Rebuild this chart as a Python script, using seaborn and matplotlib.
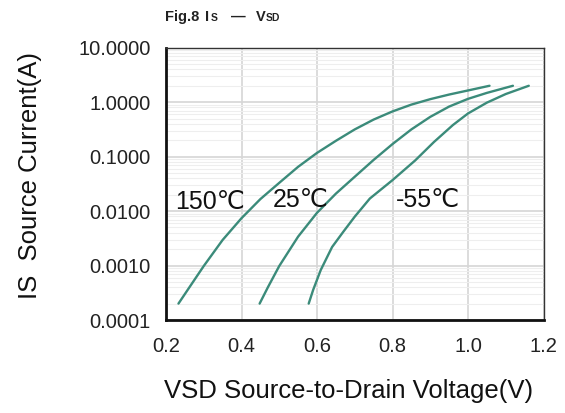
import numpy as np
import pandas as pd
import matplotlib
matplotlib.use("Agg")
import matplotlib.pyplot as plt
import seaborn as sns
from matplotlib.ticker import FixedLocator, FixedFormatter, NullFormatter, LogLocator

# ---- data ----
v_150 = [0.233, 0.26, 0.30, 0.35, 0.40, 0.45, 0.50, 0.55, 0.60, 0.65, 0.70, 0.75,
         0.80, 0.85, 0.90, 0.95, 1.00, 1.057]
i_150 = [2.0e-4, 3.8e-4, 9.8e-4, 2.95e-3, 7.4e-3, 0.0166, 0.033, 0.065, 0.117, 0.195,
         0.316, 0.479, 0.676, 0.902, 1.135, 1.38, 1.64, 2.0]

v_25 = [0.448, 0.47, 0.50, 0.55, 0.60, 0.65, 0.70, 0.75, 0.80, 0.85, 0.90, 0.95,
        1.00, 1.05, 1.119]
i_25 = [2.0e-4, 4.0e-4, 9.8e-4, 3.4e-3, 9.3e-3, 0.0209, 0.0427, 0.087, 0.17, 0.316,
        0.537, 0.83, 1.15, 1.48, 2.0]

v_m55 = [0.578, 0.59, 0.61, 0.64, 0.67, 0.70, 0.74, 0.80, 0.86, 0.91, 0.96, 1.00,
         1.05, 1.10, 1.161]
i_m55 = [2.0e-4, 3.6e-4, 8.3e-4, 2.19e-3, 4.2e-3, 7.9e-3, 0.017, 0.037, 0.085, 0.186,
         0.38, 0.62, 0.98, 1.41, 2.0]

temps = ["150℃", "25℃", "-55℃"]
x_ticks = [0.2, 0.4, 0.6, 0.8, 1.0, 1.2]
y_ticks = [0.0001, 0.001, 0.01, 0.1, 1.0, 10.0]
y_tick_labels = ["0.0001", "0.0010", "0.0100", "0.1000", "1.0000", "10.0000"]
x_tick_labels = ["0.2", "0.4", "0.6", "0.8", "1.0", "1.2"]

df = pd.concat([
    pd.DataFrame({"V": v_150, "I": i_150, "T": temps[0]}),
    pd.DataFrame({"V": v_25, "I": i_25, "T": temps[1]}),
    pd.DataFrame({"V": v_m55, "I": i_m55, "T": temps[2]}),
], ignore_index=True)

sns.set_theme(style="white")
plt.rcParams["font.family"] = ["Liberation Sans", "DejaVu Sans"]

line_color = "#3b8b7a"

fig = plt.figure(figsize=(5.65, 4.13), dpi=100)
W, H = 565, 413
L, R, T, B = 166, 543.5, 47.7, 320
ax = fig.add_axes([L / W, 1 - B / H, (R - L) / W, (B - T) / H])

sns.lineplot(data=df, x="V", y="I", hue="T", palette=[line_color] * 3,
             estimator=None, legend=False, ax=ax, linewidth=1.7)

ax.set_yscale("log")
ax.set_xlim(0.2, 1.2)
ax.set_ylim(1e-4, 10)

ax.yaxis.set_major_locator(FixedLocator(y_ticks))
ax.yaxis.set_major_formatter(FixedFormatter(y_tick_labels))
ax.yaxis.set_minor_locator(LogLocator(base=10, subs=np.arange(2, 10), numticks=20))
ax.yaxis.set_minor_formatter(NullFormatter())
ax.xaxis.set_major_locator(FixedLocator(x_ticks))
ax.xaxis.set_major_formatter(FixedFormatter(x_tick_labels))

ax.grid(True, which="major", axis="both", color="#d6d6d6", linewidth=1.2)
ax.grid(True, which="minor", axis="y", color="#eeeeee", linewidth=0.8)
ax.set_axisbelow(True)

for s in ["left", "bottom"]:
    ax.spines[s].set_color("#111111")
    ax.spines[s].set_linewidth(2.0)
for s in ["top", "right"]:
    ax.spines[s].set_color("#333333")
    ax.spines[s].set_linewidth(1.0)

ax.tick_params(axis="both", which="both", length=0, labelsize=14.5, labelcolor="#222222")
ax.tick_params(axis="y", pad=11)
ax.tick_params(axis="x", pad=12)

ax.set_xlabel("VSD Source-to-Drain Voltage(V)", fontsize=18.5, color="#111111", va="center")
ax.xaxis.set_label_coords(0.483, -0.259)
ax.set_ylabel("IS  Source Current(A)", fontsize=18.5, color="#111111", va="center")
ax.yaxis.set_label_coords(-0.36, 0.532)

# curve labels
ax.text(0.224, 0.0146, temps[0], fontsize=18, va="center", ha="left", color="#111111")
ax.text(0.484, 0.0158, temps[1], fontsize=18, va="center", ha="left", color="#111111")
ax.text(0.809, 0.016, temps[2], fontsize=18, va="center", ha="left", color="#111111")

# figure title
yb = 1 - 21 / H
fig.text(165 / W, yb, "Fig.8", fontsize=10.5, fontweight="bold", va="baseline", color="#222222")
fig.text(205 / W, yb, "I", fontsize=10.5, fontweight="bold", va="baseline", color="#222222")
fig.text(211 / W, yb, "S", fontsize=7.5, fontweight="bold", va="baseline", color="#222222")
fig.text(231 / W, 1 - 16.5 / H, "—", fontsize=10.5, fontweight="bold", va="center", color="#222222")
fig.text(256 / W, yb, "V", fontsize=10.5, fontweight="bold", va="baseline", color="#222222")
fig.text(266 / W, yb, "SD", fontsize=7.5, fontweight="bold", va="baseline", color="#222222")

fig.savefig("out.png", dpi=100, facecolor="white")
